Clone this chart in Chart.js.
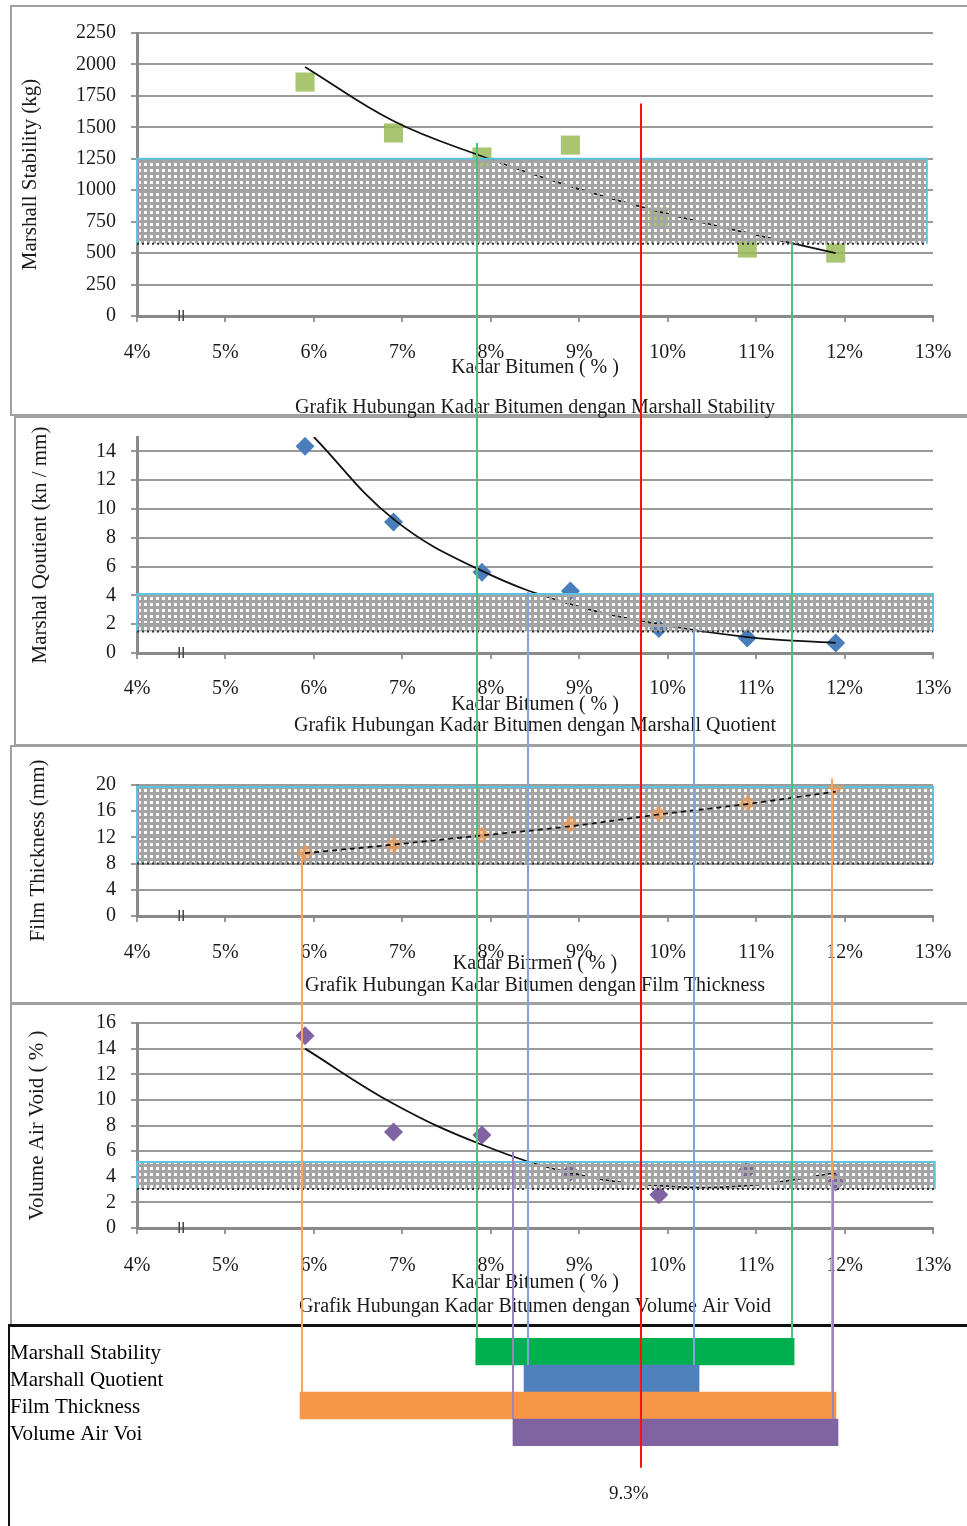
<!DOCTYPE html>
<html><head><meta charset="utf-8">
<script src="https://cdn.jsdelivr.net/npm/chart.js@4.4.1/dist/chart.umd.min.js"></script>
<style>
html,body{margin:0;padding:0;background:#fff;}
body{width:967px;height:1526px;position:relative;overflow:hidden;}
.frame{position:absolute;box-sizing:border-box;}
canvas{position:absolute;left:10px;}
</style></head><body>
<div class="frame" style="left:10px;top:5px;width:970px;height:411px;border:2px solid #a0a0a0;"></div>
<div class="frame" style="left:14px;top:416px;width:970px;height:330px;border:2px solid #a0a0a0;"></div>
<div class="frame" style="left:10px;top:745px;width:970px;height:259px;border:2px solid #a0a0a0;"></div>
<div class="frame" style="left:10px;top:1003px;width:970px;height:323px;border:2px solid #a0a0a0;"></div>
<div class="frame" style="left:8px;top:1324px;width:970px;height:220px;border-top:3px solid #111;border-left:2px solid #111;"></div>
<canvas id="c0" width="957" height="413" style="top:5px"></canvas>
<canvas id="c1" width="957" height="330" style="top:415px"></canvas>
<canvas id="c2" width="957" height="258" style="top:745px"></canvas>
<canvas id="c3" width="957" height="322" style="top:1003px"></canvas>
<canvas id="c4" width="957" height="201" style="top:1325px"></canvas>
<script>
// ---------- DATA ----------
const bitumen = [5.9, 6.9, 7.9, 8.9, 9.9, 10.9, 11.9];
const xTicksMin = 4, xTicksMax = 13;

const stabilityValues = [1860, 1455, 1264, 1359, 787, 540, 500];
const stabilityTrendX = [5.9, 6.9, 7.9, 8.9, 9.9, 10.9, 11.9];
const stabilityTrend = [1980, 1550, 1270, 1030, 830, 660, 500];
const stabilityBand = [575, 1250];

const quotientValues = [14.35, 9.1, 5.6, 4.3, 1.7, 1.05, 0.7];
const quotientTrendX = [6.0, 6.9, 7.9, 8.9, 9.9, 10.9, 11.9];
const quotientTrend = [15, 9.3, 5.7, 3.4, 2.0, 1.1, 0.7];
const quotientBand = [1.5, 4.1];

const filmValues = [9.6, 10.8, 12.4, 14.0, 15.6, 17.2, 19.7];
const filmTrendX = [5.9, 6.9, 7.9, 8.9, 9.9, 10.9, 11.9];
const filmTrend = [9.6, 10.9, 12.3, 13.7, 15.5, 17.1, 19.0];
const filmBand = [8, 19.7];

const voidValues = [15.0, 7.5, 7.25, 4.35, 2.6, 4.5, 3.6];
const voidTrendX = [5.9, 6.9, 7.9, 8.9, 9.9, 10.9, 11.9];
const voidTrend = [14.0, 9.7, 6.5, 4.3, 3.3, 3.3, 4.3];
const voidBand = [3.05, 5.15];

const bandEndX = [12.93, 13.0, 13.0, 13.02];

// connector lines: x (%), panel where they start, value where they start, summary row where they end
const connectorX = [7.844, 11.406, 8.421, 10.298, 5.866, 11.858, 8.251, 11.869, 9.699];
const connectorStartPanel = [0, 0, 1, 1, 2, 2, 3, 3, 0];
const connectorStartY = [1375, 580, 4.25, 1.6, 9.3, 21, 6.0, 3.75, 1690];
const connectorEndRow = [0, 0, 1, 1, 2, 2, 3, 3, 4.31];

const summaryLabels = ['Marshall Stability', 'Marshall Quotient', 'Film Thickness', 'Volume Air Voi'];
const summaryRanges = [[7.83, 11.43], [8.376, 10.355], [5.843, 11.903], [8.251, 11.926]];
const optimumLabel = '9.3%';
const optimumLabelX = 9.56;
const optimumLabelRow = 5.28;
const axisBreakX = 4.5;

// ---------- STYLE ----------
const SERIF = "'Liberation Serif', 'Times New Roman', serif";
const TXT = '#1a1a1a';
const connectorColors = ['#4cc277','#4cc277','#7fa6d9','#7fa6d9','#f6a45e','#f6a45e','#9a86ba','#9a86ba','#ff1010'];
const barColors = ['#00b050', '#4f81bd', '#f79646', '#8064a2'];

const tile = document.createElement('canvas');
tile.width = 6; tile.height = 6;
(function(){ const g = tile.getContext('2d'); g.fillStyle = '#a4a4a4'; g.fillRect(0,0,6,6); g.clearRect(2,2,3,3); })();

function drawBand(chart, opts) {
  const {ctx} = chart; const xs = chart.scales.x, ys = chart.scales.y;
  const x0 = xs.getPixelForValue(xTicksMin), x1 = xs.getPixelForValue(opts.xEnd);
  const yT = ys.getPixelForValue(opts.range[1]), yB = ys.getPixelForValue(opts.range[0]);
  ctx.save();
  ctx.fillStyle = ctx.createPattern(tile, 'repeat');
  ctx.fillRect(x0, yT, x1 - x0, yB - yT);
  ctx.strokeStyle = '#5ec3dc'; ctx.lineWidth = 2;
  ctx.beginPath(); ctx.moveTo(x0, yB); ctx.lineTo(x0, yT); ctx.lineTo(x1, yT); ctx.lineTo(x1, yB); ctx.stroke();
  ctx.setLineDash([2, 3]); ctx.strokeStyle = '#333'; ctx.lineWidth = 2;
  ctx.beginPath(); ctx.moveTo(x0, yB); ctx.lineTo(x1, yB); ctx.stroke();
  ctx.restore();
}
const bandPlugin = {
  id: 'band',
  beforeDatasetsDraw(chart, args, opts) { if (opts && opts.range && opts.under) drawBand(chart, opts); },
  afterDatasetsDraw(chart, args, opts) { if (opts && opts.range && !opts.under) drawBand(chart, opts); }
};

const breakPlugin = {
  id: 'axisBreak',
  afterDraw(chart, args, opts) {
    if (!opts || !opts.show) return;
    const {ctx} = chart; const px = chart.scales.x.getPixelForValue(axisBreakX); const y = chart.chartArea.bottom;
    ctx.save(); ctx.strokeStyle = '#444'; ctx.lineWidth = 1.5;
    [-2, 2].forEach(d => { ctx.beginPath(); ctx.moveTo(px + d, y - 6); ctx.lineTo(px + d, y + 5); ctx.stroke(); });
    ctx.restore();
  }
};

const connectorPlugin = {
  id: 'connectors',
  afterDraw(chart, args, opts) {
    const p = opts.panel; const {ctx} = chart;
    const xs = chart.scales.x, ys = chart.scales.y;
    if (opts.labels) {
      ctx.save(); ctx.fillStyle = '#000'; ctx.font = "21px " + SERIF; ctx.textAlign = 'left'; ctx.textBaseline = 'middle';
      opts.labels.forEach((t, i) => ctx.fillText(t, 0, ys.getPixelForValue(i) + 2));
      ctx.restore();
    }
    connectorX.forEach((cx, i) => {
      const sp = connectorStartPanel[i];
      if (p < sp) return;
      const px = Math.round(xs.getPixelForValue(cx));
      const y0 = (p === sp) ? ys.getPixelForValue(connectorStartY[i]) : 0;
      let y1;
      if (p === 4) {
        const r = connectorEndRow[i];
        y1 = Number.isInteger(r) ? ys.getPixelForValue(r - 0.5) : ys.getPixelForValue(r);
      } else y1 = chart.height;
      ctx.save(); ctx.strokeStyle = connectorColors[i]; ctx.lineWidth = 2;
      ctx.beginPath(); ctx.moveTo(px, y0); ctx.lineTo(px, y1); ctx.stroke(); ctx.restore();
    });
    if (opts.label) {
      ctx.save(); ctx.fillStyle = TXT; ctx.font = "19px " + SERIF; ctx.textAlign = 'center'; ctx.textBaseline = 'middle';
      ctx.fillText(optimumLabel, xs.getPixelForValue(optimumLabelX), ys.getPixelForValue(optimumLabelRow));
      ctx.restore();
    }
  }
};

function pts(xs, ys) { return xs.map((x, i) => ({x: x, y: ys[i]})); }
const F = (s) => ({family: SERIF, size: s, lineHeight: 1, weight: 'normal'});

function panelChart(id, c) {
  return new Chart(document.getElementById(id), {
    type: 'scatter',
    data: {datasets: [
      {data: pts(bitumen, c.values), showLine: false, pointStyle: c.pointStyle, pointRadius: c.radius,
       backgroundColor: c.color, borderColor: c.color, borderWidth: 0, order: 2},
      {data: pts(c.trendX, c.trend), showLine: true, borderColor: '#111', borderWidth: 1.8,
       pointRadius: 0, tension: 0.4, fill: false, order: 1, borderDash: c.dash || []}
    ]},
    options: {
      responsive: false, animation: false, devicePixelRatio: 1,
      layout: {padding: {left: 0, right: 34, top: c.padTop, bottom: c.padBottom}},
      plugins: {
        legend: {display: false}, tooltip: {enabled: false},
        title: {display: true, position: 'bottom', fullSize: false, text: c.title, font: F(20), color: TXT, padding: 0},
        band: {range: c.band, xEnd: c.bandEnd, under: !!c.bandUnder},
        connectors: {panel: c.panel},
        axisBreak: {show: true}
      },
      scales: {
        x: {type: 'linear', min: xTicksMin, max: xTicksMax,
            ticks: {stepSize: 1, callback: v => v + '%', font: F(20), color: TXT, padding: c.tickPad, maxRotation: 0},
            grid: {drawOnChartArea: false, tickLength: 6, color: '#9a9a9a', lineWidth: 2},
            border: {color: '#8a8a8a', width: 3},
            title: {display: true, text: c.xTitle, font: F(20), color: TXT, padding: {top: 0, bottom: c.xTitlePad}},
            afterFit: s => { s.height = c.xHeight; s.paddingLeft = 0; s.paddingRight = 0; }},
        y: {type: 'linear', min: 0, max: c.yMax,
            ticks: {stepSize: c.yStep, callback: v => String(v), font: F(20), color: TXT, padding: 15, includeBounds: false},
            grid: {color: '#9a9a9a', lineWidth: 2, tickLength: 6},
            border: {color: '#8a8a8a', width: 3},
            title: {display: true, text: c.yTitle, font: F(21), color: TXT, padding: {top: c.yTitlePad, bottom: 0}},
            afterFit: s => { s.width = 127; s.paddingTop = 0; s.paddingBottom = 0; }}
      }
    },
    plugins: [bandPlugin, connectorPlugin, breakPlugin]
  });
}

panelChart('c0', {panel: 0, values: stabilityValues, trendX: stabilityTrendX, trend: stabilityTrend, band: stabilityBand, bandEnd: bandEndX[0],
  pointStyle: 'rect', radius: 13.5, color: 'rgba(155,187,89,0.85)', yMax: 2250, yStep: 250,
  title: 'Grafik Hubungan Kadar Bitumen dengan Marshall Stability', xTitle: 'Kadar Bitumen ( % )', yTitle: 'Marshall Stability (kg)',
  padTop: 28, padBottom: 0, xHeight: 82, xTitlePad: 20, yTitlePad: 9.5, tickPad: 21});

panelChart('c1', {panel: 1, values: quotientValues, trendX: quotientTrendX, trend: quotientTrend, band: quotientBand, bandEnd: bandEndX[1],
  pointStyle: 'rectRot', radius: 9.5, color: '#4a7ebb', yMax: 15, yStep: 2,
  title: 'Grafik Hubungan Kadar Bitumen dengan Marshall Quotient', xTitle: 'Kadar Bitumen ( % )', yTitle: 'Marshal Qoutient (kn / mm)',
  padTop: 22, padBottom: 9, xHeight: 63, xTitlePad: 1, yTitlePad: 19.5, tickPad: 20});

panelChart('c2', {panel: 2, values: filmValues, trendX: filmTrendX, trend: filmTrend, band: filmBand, bandEnd: bandEndX[2], bandUnder: true,
  pointStyle: 'rectRot', radius: 8.5, color: 'rgba(247,150,70,0.6)', yMax: 20, yStep: 4, dash: [5, 4],
  title: 'Grafik Hubungan Kadar Bitumen dengan Film Thickness', xTitle: 'Kadar Bitrmen ( % )', yTitle: 'Film Thickness (mm)',
  padTop: 40, padBottom: 7, xHeight: 60, xTitlePad: 2, yTitlePad: 17.5, tickPad: 21});

panelChart('c3', {panel: 3, values: voidValues, trendX: voidTrendX, trend: voidTrend, band: voidBand, bandEnd: bandEndX[3],
  pointStyle: 'rectRot', radius: 9.5, color: '#8064a2', yMax: 16, yStep: 2,
  title: 'Grafik Hubungan Kadar Bitumen dengan Volume Air Void', xTitle: 'Kadar Bitumen ( % )', yTitle: 'Volume Air Void ( % )',
  padTop: 20, padBottom: 8, xHeight: 69, xTitlePad: 4, yTitlePad: 16.5, tickPad: 22});

new Chart(document.getElementById('c4'), {
  type: 'bar',
  data: {labels: summaryLabels, datasets: [{data: summaryRanges, backgroundColor: barColors, borderWidth: 0,
    barPercentage: 1, categoryPercentage: 1}]},
  options: {
    indexAxis: 'y', responsive: false, animation: false, devicePixelRatio: 1,
    layout: {padding: {left: 0, right: 34, top: 13, bottom: 80}},
    plugins: {legend: {display: false}, tooltip: {enabled: false}, connectors: {panel: 4, label: true, labels: summaryLabels}},
    scales: {
      x: {type: 'linear', min: xTicksMin, max: xTicksMax, display: false},
      y: {type: 'category', ticks: {display: false},
          grid: {display: false}, border: {display: false}, afterFit: s => { s.width = 127; }}
    }
  },
  plugins: [connectorPlugin]
});
</script>
</body></html>
